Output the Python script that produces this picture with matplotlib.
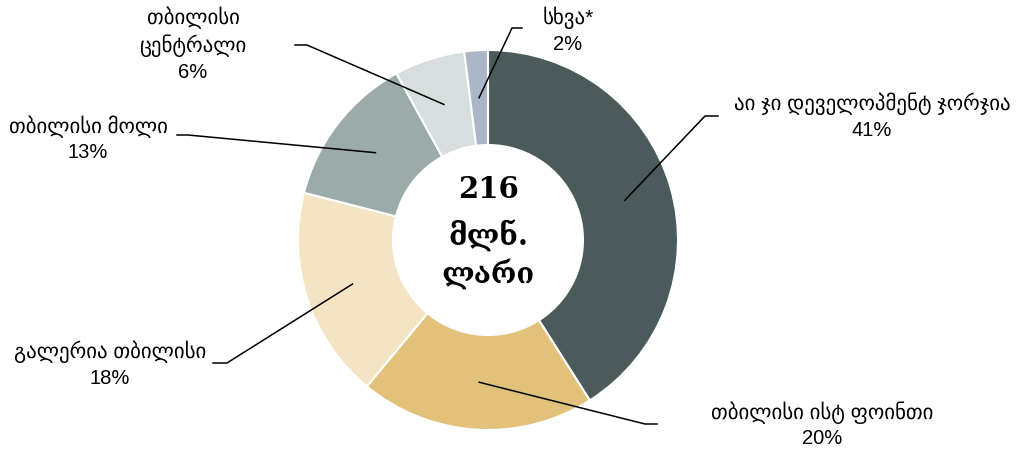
import numpy as np
import matplotlib
matplotlib.use("Agg")
import matplotlib.pyplot as plt

# shares of the 216 mln GEL total, clockwise from 12 o'clock
names = ["აი ჯი დეველოპმენტ ჯორჯია", "თბილისი ისტ ფოინთი", "გალერია თბილისი",
         "თბილისი მოლი", "თბილისი\nცენტრალი", "სხვა*"]
shares = [41, 20, 18, 13, 6, 2]
colors = ["#4b5a5a", "#e2c27b", "#f4e4c4", "#9aaba9", "#d7dfde", "#abb6c8"]
center_text = ["216", "მლნ.", "ლარი"]

W, H = 1031, 453
fig = plt.figure(figsize=(W / 100, H / 100), dpi=100)
ax = fig.add_axes([0, 0, 1, 1])

cx, cy, R = 488, 240, 190  # pixel layout, y measured from top
def fy(y):
    return H - y

ax.pie(shares, colors=colors, startangle=90, counterclock=False,
       center=(cx, fy(cy)), radius=R,
       wedgeprops=dict(width=R * 0.5, edgecolor="white", linewidth=1.5))
ax.set_xlim(0, W)
ax.set_ylim(0, H)
ax.set_aspect("equal")
ax.axis("off")

# label layout: elbow point, end of horizontal stub, text centre x, text top y
layout = [
    ((705, 116), (718, 116), 872, 104),
    ((645, 424), (657, 424), 822, 413),
    ((227, 363), (213, 363), 110, 352),
    ((188, 135), (177, 135), 88, 127),
    ((307, 45), (295, 45), 193, 18),
    ((512, 28), (522, 28), 568, 18),
]

lab_font = ["Liberation Sans", "DejaVu Sans"]
cum = np.cumsum([0] + shares[:-1])
total = sum(shares)
for i, (name, s) in enumerate(zip(names, shares)):
    mid = (cum[i] + s / 2) / total * 2 * np.pi
    ax_x = cx + 0.75 * R * np.sin(mid)
    ax_y = cy - 0.75 * R * np.cos(mid)
    (ex, ey), (sx, sy), tx, ty = layout[i]
    ax.plot([ax_x, ex, sx], [fy(ax_y), fy(ey), fy(sy)], color="black", lw=1.1)
    nlines = name.count("\n") + 1
    for k, line in enumerate(name.split("\n")):
        ax.text(tx, fy(ty + 28 * k), line, ha="center", va="center",
                fontsize=15, family=lab_font)
    ax.text(tx, fy(ty + 28 * (nlines - 1) + 26), f"{s}%", ha="center", va="center",
            fontsize=14.5, family=lab_font)

for k, (line, y) in enumerate(zip(center_text, [190, 236, 274])):
    ax.text(cx, fy(y), line, ha="center", va="center", fontsize=21,
            fontweight="bold", family=["DejaVu Serif", "DejaVu Sans"])

fig.savefig("out.png", dpi=100)
